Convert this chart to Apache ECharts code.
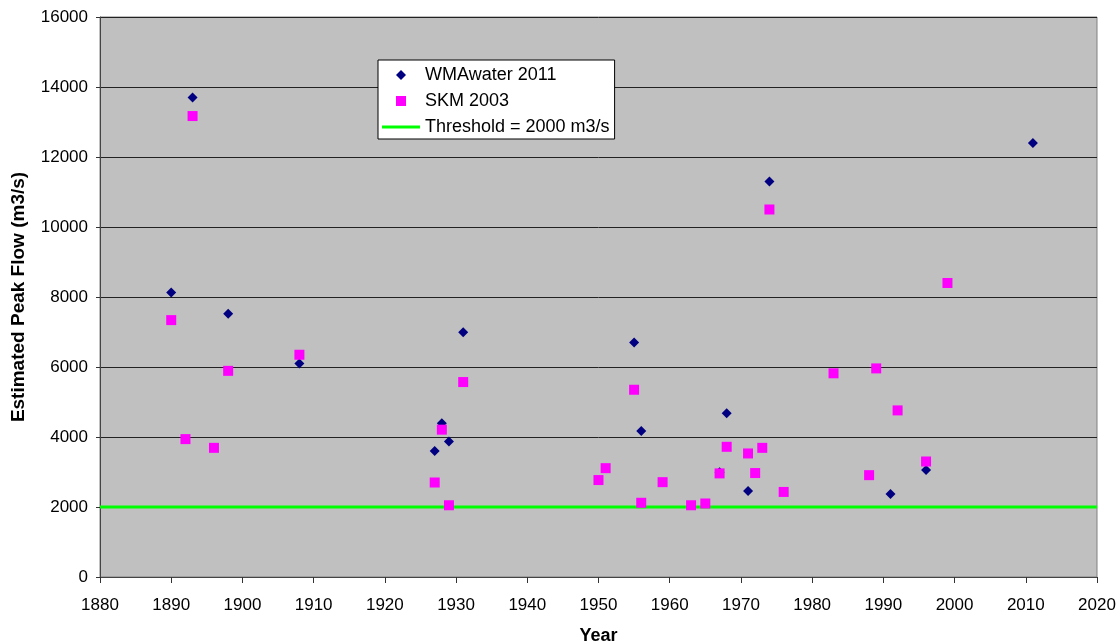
<!DOCTYPE html>
<html>
<head>
<meta charset="utf-8">
<script src="https://cdn.jsdelivr.net/npm/echarts@6/dist/echarts.min.js"></script>
<style>html,body{margin:0;padding:0;background:#fff;}#c{width:1120px;height:642px;}</style>
</head>
<body>
<div id="c"></div>
<script>
const wmaYears = [1890, 1893, 1898, 1908, 1927, 1928, 1929, 1931, 1955, 1956, 1967, 1968, 1971, 1974, 1991, 1996, 2011];
const wmaFlow  = [8130, 13700, 7520, 6100, 3600, 4390, 3870, 6990, 6700, 4170, 2990, 4680, 2460, 11300, 2370, 3060, 12400];
const skmYears = [1890, 1892, 1893, 1896, 1898, 1908, 1927, 1928, 1929, 1931, 1950, 1951, 1955, 1956, 1959, 1963, 1965, 1967, 1968, 1971, 1972, 1973, 1974, 1976, 1983, 1988, 1989, 1992, 1996, 1999];
const skmFlow  = [7340, 3940, 13170, 3690, 5890, 6350, 2700, 4210, 2050, 5570, 2770, 3110, 5350, 2120, 2710, 2050, 2100, 2960, 3720, 3530, 2970, 3690, 10500, 2430, 5820, 2910, 5960, 4760, 3300, 8400];
const thresholdYears = [1880, 2020];
const thresholdFlow = [2000, 2000];
const seriesNames = ['WMAwater 2011', 'SKM 2003', 'Threshold = 2000 m3/s'];

const zip = (a, b) => a.map((v, i) => [v, b[i]]);
const font = 'Liberation Sans, Arial, sans-serif';

// legend icons: bounding box 38x14 kept by the invisible move-to corners
const iconDiamond = 'path://M0,0M38,14M19,2L24,7L19,12L14,7Z';
const iconSquare = 'path://M0,0M38,14M14,2L24,2L24,12L14,12Z';
const iconLine = 'path://M0,0M38,14M0,5.5L38,5.5L38,8.5L0,8.5Z';

const chart = echarts.init(document.getElementById('c'));
chart.setOption({
  animation: false,
  grid: {
    left: 100, right: 23, top: 17, bottom: 65,
    outerBoundsMode: 'none', containLabel: false,
    show: true, backgroundColor: '#C0C0C0', borderColor: '#808080', borderWidth: 1
  },
  xAxis: {
    type: 'value', min: 1880, max: 2020, interval: 10,
    name: 'Year', nameLocation: 'middle', nameGap: 50,
    nameTextStyle: { fontFamily: font, fontSize: 18, fontWeight: 'bold', color: '#000' },
    axisLine: { show: true, onZero: false, lineStyle: { color: '#444', width: 1 } },
    axisTick: { show: true, length: 6, lineStyle: { color: '#333' } },
    axisLabel: { fontFamily: font, fontSize: 17, color: '#000', margin: 20, formatter: v => String(v) },
    splitLine: { show: false }
  },
  yAxis: {
    type: 'value', min: 0, max: 16000, interval: 2000,
    name: 'Estimated Peak Flow (m3/s)', nameLocation: 'middle', nameGap: 72,
    nameTextStyle: { fontFamily: font, fontSize: 19, fontWeight: 'bold', color: '#000' },
    axisLine: { show: true, lineStyle: { color: '#444', width: 1 } },
    axisTick: { show: true, length: 4, lineStyle: { color: '#333' } },
    axisLabel: { fontFamily: font, fontSize: 17, color: '#000', margin: 12, formatter: v => String(v) },
    splitLine: { show: true, lineStyle: { color: '#222', width: 1 } }
  },
  legend: {
    orient: 'vertical', left: 378, top: 60,
    backgroundColor: '#fff', borderColor: '#000', borderWidth: 1,
    padding: [6, 5, 3, 4],
    itemWidth: 38, itemHeight: 14, itemGap: 8,
    textStyle: { fontFamily: font, fontSize: 18, color: '#000' },
    data: [
      { name: seriesNames[0], icon: iconDiamond, itemStyle: { color: '#000080' } },
      { name: seriesNames[1], icon: iconSquare, itemStyle: { color: '#FF00FF' } },
      { name: seriesNames[2], icon: iconLine, itemStyle: { color: '#00FF00' } }
    ]
  },
  series: [
    {
      name: seriesNames[0], type: 'scatter', symbol: 'diamond', symbolSize: 10,
      itemStyle: { color: '#000080', opacity: 1 }, data: zip(wmaYears, wmaFlow), z: 3
    },
    {
      name: seriesNames[1], type: 'scatter', symbol: 'rect', symbolSize: 10,
      itemStyle: { color: '#FF00FF', opacity: 1 }, data: zip(skmYears, skmFlow), z: 4
    },
    {
      name: seriesNames[2], type: 'line', symbol: 'none', showSymbol: false,
      lineStyle: { color: '#00FF00', width: 3 }, itemStyle: { color: '#00FF00' },
      data: zip(thresholdYears, thresholdFlow), z: 2
    }
  ]
});
</script>
</body>
</html>
